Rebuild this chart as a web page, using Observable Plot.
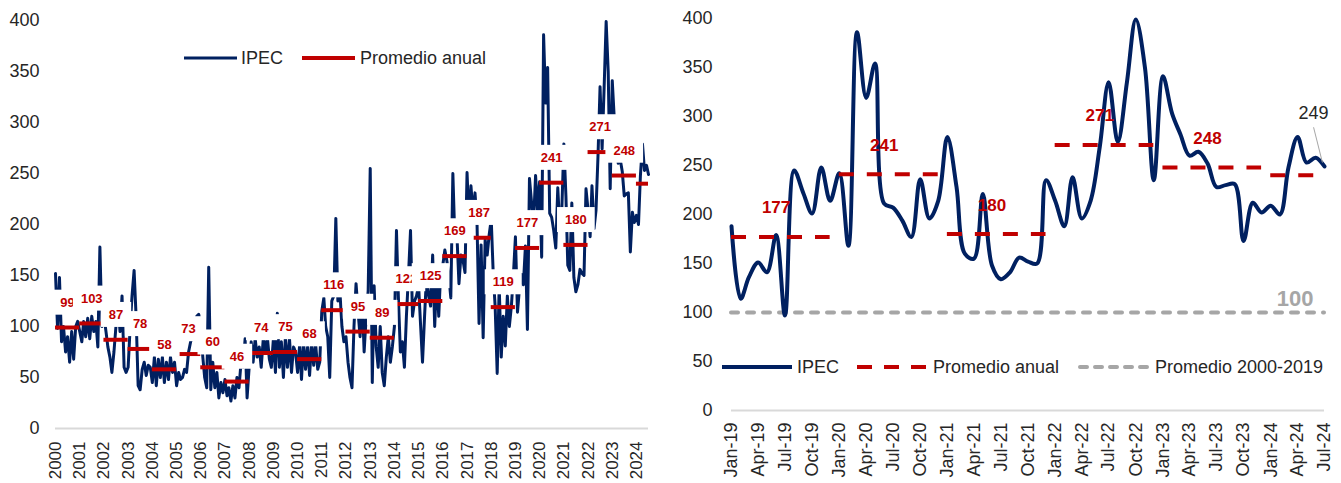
<!DOCTYPE html>
<html><head><meta charset="utf-8">
<script src="https://cdn.jsdelivr.net/npm/d3@7"></script>
<script src="https://cdn.jsdelivr.net/npm/@observablehq/plot@0.6"></script>
<style>
html,body{margin:0;padding:0;background:#fff;}
#wrap{position:relative;width:1341px;height:483px;overflow:hidden;font-family:"Liberation Sans",Arial,sans-serif;}
#left{position:absolute;left:0;top:0;}
#right{position:absolute;left:665px;top:0;}
#leg{position:absolute;left:0;top:0;pointer-events:none;}
svg{display:block;}
</style></head><body>
<div id="wrap"><div id="left"></div><div id="right"></div></div>
<script>
// ---------- data ----------
const ipec2000_2009 = [
 152, 98,148, 85,100, 75, 90, 65, 95, 68,100,105,
  95, 85,105, 90,108, 88,110, 95,105, 80,178,100,
 110, 95, 80, 70, 55, 75,100,120, 95,130, 60, 55,
  60,100,130,155,110, 42, 38, 58, 65, 52, 62, 60,
  45, 70, 42, 68, 50, 70, 45, 65, 48, 70, 55, 65,
  42, 55, 48, 50, 58, 55, 75, 85, 90, 95,110,112,
 100, 70, 50, 40,158, 38, 65, 40, 55, 30, 45, 35,
  48, 32, 40, 27, 42, 30, 50, 40, 65, 60, 88, 30,
  60, 85, 65, 88, 70, 80, 60, 88, 75, 90, 68, 60,
  88, 55,113, 60, 85, 50, 90, 60, 88, 55, 80, 75];
const ipec2010_2018 = [
  55, 82, 48, 85, 58, 80, 52, 85, 62, 82, 58, 65,
 115,128,100, 90, 50,125,130,206,125,135,100, 85,
  90, 65, 50, 40,100,142,115, 90,130, 75,110,135,
 255, 45,140, 80, 60,100, 55, 42, 70, 90, 65, 80,
 100,194,130, 75, 85, 60,110,150,194,110,125,130,
 140,100, 65,110,150,130,120,170,100,150,110,155,
 160,175,165,150,128,250,185,190,142,170,165,153,
 251,200,238,210,231,200,103,180, 89,185,170,190,
 205,150,120, 54,140, 70,110, 81,130,100,120,150];
const ipec2019_2024 = [
 188,114,136,151,141,179, 97,245,222,201,248,214,
 242,168,386,319,354,211,207,194,177,236,196,214,
 279,228,160,155,221,148,134,141,156,152,150,235,
 214,188,238,196,214,269,335,274,335,399,350,235,
 341,303,282,260,264,252,228,230,231,173,212,202,
 209,200,248,279,253,258,249];

const avgYears  = [2000,2001,2002,2003,2004,2005,2006,2007,2008,2009,2010,2011,2012,2013,2014,2015,2016,2017,2018,2019,2020,2021,2022,2023,2024];
const avgValues = [  99, 103,  87,  78,  58,  73,  60,  46,  74,  75,  68, 116,  95,  89, 122, 125, 169, 187, 119, 177, 241, 180, 271, 248, 240];
const leftLabelYears = [2000,2001,2002,2003,2004,2005,2006,2007,2008,2009,2010,2011,2012,2013,2014,2015,2016,2017,2018,2019,2020,2021,2022,2023];
const rightAvgYears = [2019,2020,2021,2022,2023,2024];
const rightLabelYears = [2019,2020,2021,2022,2023];
const histAverage = 100;

const yTicks = [0,50,100,150,200,250,300,350,400];
const leftTickLabels = ["2000","2001","2002","2003","2004","2005","2006","2007","2008","2009","2010","2011","2012","2013","2014","2015","2016","2017","2018","2019","2020","2021","2022","2023","2024"];
const rightTickLabels = ["Jan-19","Apr-19","Jul-19","Oct-19","Jan-20","Apr-20","Jul-20","Oct-20","Jan-21","Apr-21","Jul-21","Oct-21","Jan-22","Apr-22","Jul-22","Oct-22","Jan-23","Apr-23","Jul-23","Oct-23","Jan-24","Apr-24","Jul-24"];

// ---------- styles ----------
const NAVY = "#002060", RED = "#c00000", GRAY = "#a6a6a6", TXT = "#262626";
const FONT = "'Liberation Sans', Arial, sans-serif";

// ---------- derived tables ----------
const allValues = [...ipec2000_2009, ...ipec2010_2018, ...ipec2019_2024];
const leftData = allValues.map((v, i) => ({date: new Date(Date.UTC(2000, i, 1)), v}));
const rightData = ipec2019_2024.map((v, i) => ({date: new Date(Date.UTC(2019, i, 1)), v}));
const lastDate = leftData[leftData.length - 1].date;
const avgOf = y => avgValues[avgYears.indexOf(y)];

const leftBars = avgYears.map(y => ({
  x1: new Date(Date.UTC(y, 0, 1)),
  x2: new Date(Math.min(Date.UTC(y + 1, 0, 1), +lastDate)),
  v: avgOf(y)
}));
const leftLabels = leftLabelYears.map(y => ({mid: new Date(Date.UTC(y, 6, 1)), v: avgOf(y), label: String(avgOf(y))}));
const rightBars = rightAvgYears.map(y => ({
  x1: new Date(Date.UTC(y, 0, 1)),
  x2: new Date(Math.min(Date.UTC(y, 11, 1), +lastDate)),
  v: avgOf(y)
}));
const rightLabels = rightLabelYears.map(y => ({mid: new Date(Date.UTC(y, 5, 1)), v: avgOf(y), label: String(avgOf(y))}));
const leftTicks = leftTickLabels.map(s => new Date(Date.UTC(+s, 0, 1)));
const parseMY = d3.utcParse("%b-%y");
const rightTicks = rightTickLabels.map(s => parseMY(s));
const last = rightData[rightData.length - 1];
const DAY = 864e5;

// ---------- left chart ----------
const left = Plot.plot({
  width: 665, height: 483,
  marginLeft: 55, marginRight: 17, marginTop: 20, marginBottom: 55,
  style: {fontFamily: FONT, fontSize: "18px", color: TXT, background: "transparent", overflow: "visible"},
  x: {type: "utc", domain: [leftData[0].date, lastDate]},
  y: {domain: [0, 400]},
  marks: [
    Plot.ruleY([0], {stroke: "#d9d9d9", strokeWidth: 2}),
    Plot.axisY({ticks: yTicks, tickSize: 0, tickPadding: 16, label: null, fontSize: 18}),
    Plot.axisX({ticks: leftTicks, tickFormat: d => leftTickLabels[leftTicks.findIndex(t => +t === +d)], tickSize: 0, tickPadding: 13, tickRotate: -90, label: null, fontSize: 17}),
    Plot.line(leftData, {x: "date", y: "v", stroke: NAVY, strokeWidth: 3, strokeLinejoin: "round"}),
    Plot.ruleY(leftBars, {y: "v", x1: "x1", x2: "x2", stroke: RED, strokeWidth: 4}),
    Plot.text(leftLabels, {x: "mid", y: "v", text: "label", dy: -25, fill: RED, fontWeight: "bold", fontSize: 13})
  ]
});
document.getElementById("left").appendChild(left);

// ---------- right chart ----------
const right = Plot.plot({
  width: 676, height: 483,
  marginLeft: 66, marginRight: 17, marginTop: 18, marginBottom: 73,
  style: {fontFamily: FONT, fontSize: "18px", color: TXT, background: "transparent", overflow: "visible"},
  x: {type: "utc", domain: [rightData[0].date, last.date]},
  y: {domain: [0, 400]},
  marks: [
    Plot.ruleY([0], {stroke: "#d9d9d9", strokeWidth: 2}),
    Plot.axisY({ticks: yTicks, tickSize: 0, tickPadding: 19, label: null, fontSize: 18}),
    Plot.axisX({ticks: rightTicks, tickFormat: d => rightTickLabels[rightTicks.findIndex(t => +t === +d)], tickSize: 0, tickPadding: 12, tickRotate: -90, label: null, fontSize: 18}),
    Plot.ruleY([histAverage], {x1: rightData[0].date, x2: last.date, stroke: GRAY, strokeWidth: 4, strokeDasharray: "7,9", strokeLinecap: "round"}),
    Plot.line(rightData, {x: "date", y: "v", curve: "catmull-rom", stroke: NAVY, strokeWidth: 4, strokeLinejoin: "round"}),
    Plot.ruleY(rightBars, {y: "v", x1: "x1", x2: "x2", stroke: RED, strokeWidth: 4, strokeDasharray: "15,13"}),
    Plot.text(rightLabels, {x: "mid", y: "v", text: "label", dy: -29, fill: RED, fontWeight: "bold", fontSize: 17}),
    Plot.text([{date: last.date, v: histAverage}], {x: "date", y: "v", text: d => String(d.v), textAnchor: "end", dx: -11, dy: -14, fill: GRAY, fontWeight: "bold", fontSize: 22}),
    Plot.link([last], {x1: d => new Date(+d.date - 37 * DAY), y1: d => d.v + 40, x2: d => new Date(+d.date - 7 * DAY), y2: d => d.v + 4, stroke: "#a6a6a6", strokeWidth: 1}),
    Plot.text([last], {x: "date", y: "v", text: d => String(d.v), dx: -11, dy: -53, fill: TXT, fontSize: 18})
  ]
});
document.getElementById("right").appendChild(right);

// ---------- white boxes behind the left chart's value labels ----------
function boxLabels(svg, fillColor, padX, padY) {
  const groups = Array.from(svg.querySelectorAll("g")).filter(g =>
    (g.getAttribute("fill") || "").toLowerCase() === fillColor && g.querySelector("text"));
  for (const g of groups) {
    for (const t of Array.from(g.querySelectorAll("text"))) {
      const b = t.getBBox();
      const r = document.createElementNS("http://www.w3.org/2000/svg", "rect");
      r.setAttribute("x", b.x - padX);
      r.setAttribute("y", b.y - padY);
      r.setAttribute("width", b.width + 2 * padX);
      r.setAttribute("height", b.height + 2 * padY);
      r.setAttribute("fill", "#ffffff");
      const tr = t.getAttribute("transform");
      if (tr) r.setAttribute("transform", tr);
      t.parentNode.insertBefore(r, t);
    }
  }
}
boxLabels(left, RED, 8, 5);

// ---------- legends (overlay) ----------
const NS = "http://www.w3.org/2000/svg";
const leg = document.createElementNS(NS, "svg");
leg.setAttribute("id", "leg");
leg.setAttribute("width", 1341);
leg.setAttribute("height", 483);
leg.style.fontFamily = FONT;
function lineEl(x1, x2, y, stroke, w, dash, cap) {
  const l = document.createElementNS(NS, "line");
  l.setAttribute("x1", x1); l.setAttribute("x2", x2);
  l.setAttribute("y1", y); l.setAttribute("y2", y);
  l.setAttribute("stroke", stroke); l.setAttribute("stroke-width", w);
  if (dash) l.setAttribute("stroke-dasharray", dash);
  l.setAttribute("stroke-linecap", cap || "butt");
  leg.appendChild(l);
}
function textEl(x, y, s) {
  const t = document.createElementNS(NS, "text");
  t.setAttribute("x", x); t.setAttribute("y", y);
  t.setAttribute("font-size", 18); t.setAttribute("fill", TXT);
  t.setAttribute("dominant-baseline", "central");
  t.textContent = s;
  leg.appendChild(t);
}
const legendLeft = [
  {label: "IPEC", x1: 184, x2: 237, tx: 241, stroke: NAVY, w: 3},
  {label: "Promedio anual", x1: 302, x2: 355, tx: 360, stroke: RED, w: 4}
];
const legendRight = [
  {label: "IPEC", x1: 722, x2: 792, tx: 797, stroke: NAVY, w: 4},
  {label: "Promedio anual", x1: 857, x2: 927, tx: 933, stroke: RED, w: 4, dash: "15,12"},
  {label: "Promedio 2000-2019", x1: 1080, x2: 1148, tx: 1155, stroke: GRAY, w: 4, dash: "7,8", cap: "round"}
];
for (const d of legendLeft) { lineEl(d.x1, d.x2, 58, d.stroke, d.w, d.dash, d.cap); textEl(d.tx, 58, d.label); }
for (const d of legendRight) { lineEl(d.x1, d.x2, 367, d.stroke, d.w, d.dash, d.cap); textEl(d.tx, 367, d.label); }
document.getElementById("wrap").appendChild(leg);
</script>
</body></html>
